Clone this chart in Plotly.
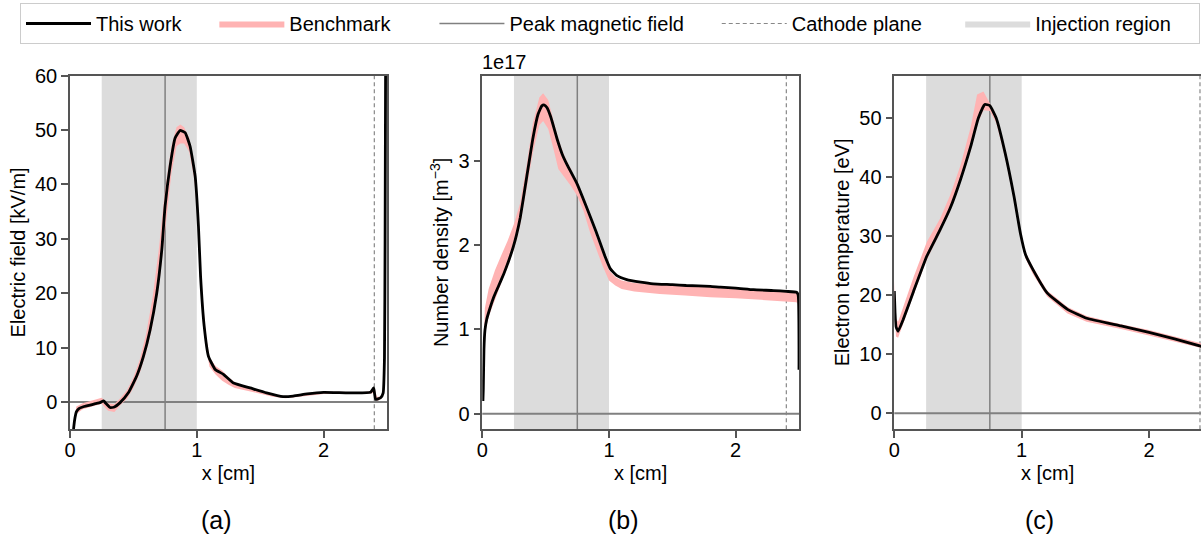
import plotly.graph_objects as go

W, H = 1201, 538

# ---------------- data ----------------
# (a) electric field [kV/m]
x_efield = [0.025, 0.03, 0.04, 0.05, 0.07, 0.1, 0.15, 0.2, 0.237, 0.265, 0.29, 0.316, 0.35, 0.395,
            0.46, 0.526, 0.579, 0.632, 0.684, 0.724, 0.75, 0.789, 0.829, 0.868, 0.908, 0.947,
            0.987, 1.013, 1.03, 1.058, 1.092, 1.145, 1.21, 1.29, 1.42, 1.55, 1.68, 1.76, 1.87,
            2.0, 2.2, 2.37, 2.395, 2.41, 2.45, 2.47, 2.48, 2.485, 2.49]
efield = [-6.0, -4.5, -2.8, -1.8, -1.2, -0.9, -0.6, -0.3, -0.1, 0.2, -0.4, -1.0, -0.9, -0.1,
          1.7, 4.8, 8.4, 13.3, 20.0, 28.0, 36.0, 43.3, 48.5, 49.9, 49.5, 47.0,
          41.5, 32.3, 23.0, 14.0, 8.4, 6.0, 5.1, 3.5, 2.6, 1.7, 1.0, 1.1, 1.5,
          1.8, 1.7, 1.8, 2.6, 0.5, 0.8, 1.7, 8.0, 30.0, 70.0]
x_efield_bench = [0.03, 0.05, 0.1, 0.15, 0.2, 0.25, 0.3, 0.35, 0.4, 0.45, 0.5, 0.55, 0.6, 0.65, 0.7,
                  0.75, 0.8, 0.84, 0.87, 0.9, 0.94, 0.98, 1.01, 1.04, 1.07, 1.1, 1.15, 1.2, 1.25,
                  1.3, 1.4, 1.5, 1.6, 1.7, 1.8, 1.9, 2.0, 2.1, 2.2, 2.3, 2.38, 2.4, 2.42, 2.45,
                  2.47, 2.48, 2.49]
efield_bench_hi = [-3.5, -0.8, -0.2, 0.1, 0.4, 0.8, -0.2, -0.4, 0.8, 2.2, 4.5, 7.8, 12.5, 19.0, 28.0,
                   39.0, 47.0, 50.5, 51.0, 50.5, 48.5, 43.5, 35.0, 21.0, 12.5, 8.2, 6.6, 5.8, 4.6,
                   3.6, 2.8, 2.1, 1.4, 1.0, 1.3, 1.6, 1.9, 1.9, 1.8, 1.8, 2.0, 2.6, 1.0, 1.0,
                   2.0, 10.0, 70.0]
efield_bench_lo = [-5.5, -2.2, -1.3, -0.9, -0.6, -0.3, -1.6, -1.8, -0.5, 0.6, 2.6, 5.3, 9.0, 14.0, 21.0,
                   32.0, 42.0, 47.0, 47.5, 47.5, 46.0, 41.0, 33.0, 19.0, 10.5, 6.5, 5.0, 3.9, 3.2,
                   2.6, 2.0, 1.5, 1.0, 0.7, 0.9, 1.2, 1.5, 1.5, 1.5, 1.5, 1.6, 1.9, 0.2, 0.5,
                   1.3, 6.0, 60.0]

# (b) number density [1e17 m^-3]
x_density = [0.005, 0.008, 0.013, 0.021, 0.035, 0.05, 0.087, 0.13, 0.17, 0.21, 0.245, 0.27, 0.3,
             0.35, 0.4, 0.44, 0.47, 0.49, 0.51, 0.54, 0.59, 0.63, 0.67, 0.75, 0.82, 0.9, 0.97,
             1.01, 1.06, 1.14, 1.25, 1.35, 1.5, 1.61, 1.8, 1.88, 2.0, 2.14, 2.3, 2.4, 2.48, 2.493, 2.5]
density = [0.15, 0.3, 0.76, 0.99, 1.12, 1.2, 1.37, 1.52, 1.66, 1.82, 1.98, 2.12, 2.33,
           2.8, 3.27, 3.55, 3.65, 3.66, 3.63, 3.52, 3.26, 3.08, 2.95, 2.72, 2.46, 2.15, 1.86,
           1.72, 1.64, 1.59, 1.56, 1.54, 1.53, 1.52, 1.51, 1.50, 1.49, 1.47, 1.46, 1.45, 1.44, 1.41, 0.52]
x_density_bench = [0.005, 0.02, 0.05, 0.1, 0.15, 0.2, 0.25, 0.3, 0.35, 0.4, 0.45, 0.48, 0.52, 0.56,
                   0.6, 0.65, 0.7, 0.75, 0.8, 0.85, 0.9, 0.95, 1.0, 1.05, 1.1, 1.2, 1.4, 1.6, 1.8,
                   2.0, 2.2, 2.4, 2.48, 2.49]
density_bench_hi = [0.5, 1.25, 1.48, 1.7, 1.88, 2.05, 2.25, 2.5, 2.95, 3.45, 3.75, 3.8, 3.72, 3.5,
                    3.25, 3.05, 2.9, 2.72, 2.5, 2.3, 2.1, 1.9, 1.7, 1.62, 1.58, 1.55, 1.53, 1.52,
                    1.51, 1.49, 1.47, 1.45, 1.44, 1.42]
density_bench_lo = [0.3, 0.95, 1.15, 1.35, 1.55, 1.75, 1.95, 2.25, 2.65, 3.1, 3.42, 3.47, 3.38, 3.15,
                    2.9, 2.8, 2.7, 2.58, 2.4, 2.15, 1.95, 1.75, 1.58, 1.52, 1.48, 1.45, 1.42, 1.40,
                    1.38, 1.37, 1.35, 1.33, 1.32, 1.30]

# (c) electron temperature [eV]
x_temp = [0.0, 0.006, 0.013, 0.03, 0.07, 0.15, 0.255, 0.36, 0.44, 0.52, 0.6, 0.66, 0.71, 0.75,
          0.8, 0.87, 0.94, 0.99, 1.03, 1.09, 1.2, 1.36, 1.51, 1.78, 2.0, 2.2, 2.42]
temp = [20.7, 17.0, 14.7, 13.9, 15.9, 20.6, 26.6, 31.1, 34.8, 39.6, 45.2, 50.0, 52.3, 52.1,
        50.0, 44.1, 36.7, 30.5, 26.9, 24.3, 20.4, 17.6, 16.1, 14.8, 13.7, 12.6, 11.3]
x_temp_bench = [0.0, 0.013, 0.03, 0.07, 0.15, 0.255, 0.36, 0.44, 0.52, 0.6, 0.65, 0.7, 0.75, 0.8,
                0.87, 0.94, 0.99, 1.03, 1.09, 1.2, 1.36, 1.51, 1.78, 2.0, 2.2, 2.42]
temp_bench_hi = [22.5, 16.0, 15.5, 18.0, 23.0, 29.0, 33.0, 37.0, 42.0, 48.5, 54.0, 54.5, 52.5, 50.5,
                 44.5, 37.0, 30.8, 27.3, 24.7, 20.8, 18.0, 16.5, 15.1, 14.1, 13.0, 11.8]
temp_bench_lo = [19.0, 13.0, 12.8, 15.2, 20.0, 26.0, 30.6, 34.5, 39.2, 44.5, 48.8, 51.3, 51.2, 49.2,
                 43.3, 35.9, 29.8, 26.2, 23.5, 19.8, 16.9, 15.5, 14.3, 13.2, 12.2, 11.0]

# markers in x [cm]
injection_region = [0.25, 1.0]
peak_magnetic_field = 0.75
cathode_plane = 2.4

panel_labels = ["(a)", "(b)", "(c)"]
y_titles = ["Electric field [kV/m]", "Number density [m<sup>\u22123</sup>]", "Electron temperature [eV]"]
x_title = "x [cm]"
y_ticks = [[0, 10, 20, 30, 40, 50, 60], [0, 1, 2, 3], [0, 10, 20, 30, 40, 50]]
y_ranges = [[-5, 60], [-0.185, 4.01], [-2.7, 57.2]]
x_ranges = [[0, 2.5], [0, 2.5], [0, 2.408]]
legend_names = ["This work", "Benchmark", "Peak magnetic field", "Cathode plane", "Injection region"]
legend_pad = [5, 7, 5, 6, 4]   # trailing non-breaking spaces used to space legend entries

# ---------------- styling ----------------
FONT = "Liberation Sans, Arial, Helvetica, sans-serif"
BLACK = "#000000"
PINK = "#ffb3b3"
GRAY_REGION = "#dcdcdc"
GRAY_LINE = "#808080"
SPINE = "#555555"

def px_x(p):
    return p / W

def px_y(p):
    return 1 - p / H

def lname(i):
    return legend_names[i] + "\u00a0" * legend_pad[i]

x_domains = [[px_x(70), px_x(387)], [px_x(482.3), px_x(799)], [px_x(894.3), 1.0]]
y_domain = [px_y(429.3), px_y(75.5)]

fig = go.Figure()

panels = [
    (x_efield, efield, x_efield_bench, efield_bench_lo, efield_bench_hi),
    (x_density, density, x_density_bench, density_bench_lo, density_bench_hi),
    (x_temp, temp, x_temp_bench, temp_bench_lo, temp_bench_hi),
]

for i, (xs, ys, xb, lo, hi) in enumerate(panels):
    xa = "x" if i == 0 else f"x{i+1}"
    ya = "y" if i == 0 else f"y{i+1}"
    fig.add_trace(go.Scatter(
        x=list(xb) + list(xb)[::-1], y=list(hi) + list(lo)[::-1],
        fill="toself", fillcolor=PINK, line=dict(width=0, color=PINK),
        mode="lines", name=lname(1), legendgroup="bench", legendrank=2,
        showlegend=(i == 0), xaxis=xa, yaxis=ya, hoverinfo="skip"))
    fig.add_trace(go.Scatter(
        x=xs, y=ys, mode="lines", line=dict(color=BLACK, width=2.8, shape="spline", smoothing=0.4),
        name=lname(0), legendgroup="this", legendrank=1,
        showlegend=(i == 0), xaxis=xa, yaxis=ya))

    # shapes
    fig.add_shape(type="rect", xref=xa, yref=f"{ya} domain", x0=injection_region[0],
                  x1=injection_region[1], y0=0, y1=1, fillcolor=GRAY_REGION,
                  line=dict(width=0), layer="below")
    fig.add_shape(type="line", xref=f"{xa} domain", yref=ya, x0=0, x1=1, y0=0, y1=0,
                  line=dict(color=GRAY_LINE, width=2), layer="below")
    fig.add_shape(type="line", xref=xa, yref=f"{ya} domain", x0=peak_magnetic_field,
                  x1=peak_magnetic_field, y0=0, y1=1,
                  line=dict(color=GRAY_LINE, width=1.5), layer="below")
    fig.add_shape(type="line", xref=xa, yref=f"{ya} domain", x0=cathode_plane,
                  x1=cathode_plane, y0=0, y1=1,
                  line=dict(color="#888888", width=1.2, dash="4px,3px"), layer="below")

# legend-only entries
fig.add_trace(go.Scatter(x=[None], y=[None], mode="lines",
                         line=dict(color=GRAY_LINE, width=1.5),
                         name=lname(2), legendrank=3))
fig.add_trace(go.Scatter(x=[None], y=[None], mode="lines",
                         line=dict(color="#888888", width=1.2, dash="4px,3px"),
                         name=lname(3), legendrank=4))
fig.add_trace(go.Scatter(x=[None, None], y=[None, None], fill="toself", mode="lines",
                         fillcolor=GRAY_REGION, line=dict(width=0, color=GRAY_REGION),
                         name=lname(4), legendrank=5))

axis_common = dict(showline=True, linecolor=SPINE, linewidth=1.5, mirror=True,
                   ticks="outside", ticklen=7, tickwidth=1.5, tickcolor=SPINE,
                   showgrid=False, zeroline=False, automargin=False,
                   tickfont=dict(family=FONT, size=20, color=BLACK))

layout = dict(
    width=W, height=H,
    margin=dict(l=0, r=0, t=0, b=0, autoexpand=False),
    paper_bgcolor="white", plot_bgcolor="white",
    font=dict(family=FONT, size=20, color=BLACK),
    showlegend=True,
    legend=dict(orientation="h", x=px_x(20), y=px_y(3), xanchor="left", yanchor="top",
                bordercolor="#cccccc", borderwidth=1, bgcolor="white",
                font=dict(family=FONT, size=20, color=BLACK), itemwidth=65,
                traceorder="normal"),
)

for i in range(3):
    xk = "xaxis" if i == 0 else f"xaxis{i+1}"
    yk = "yaxis" if i == 0 else f"yaxis{i+1}"
    ya = "y" if i == 0 else f"y{i+1}"
    xa = "x" if i == 0 else f"x{i+1}"
    layout[xk] = dict(axis_common, domain=x_domains[i], range=x_ranges[i], anchor=ya,
                      tickvals=[0, 1, 2], ticklabelstandoff=-5,
                      title=dict(text=x_title, standoff=6,
                                 font=dict(family=FONT, size=20, color=BLACK)))
    ymirror = True if i < 2 else False
    layout[yk] = dict(axis_common, domain=y_domain, range=y_ranges[i], anchor=xa,
                      tickvals=y_ticks[i], mirror=ymirror,
                      title=dict(text=y_titles[i], standoff=4,
                                 font=dict(family=FONT, size=20, color=BLACK)))

fig.update_layout(**layout)

# panel labels
label_x = [216, 623, 1039]
for lab, lx in zip(panel_labels, label_x):
    fig.add_annotation(text=lab, x=px_x(lx), y=px_y(520), xref="paper", yref="paper",
                       xanchor="center", yanchor="middle", showarrow=False,
                       font=dict(family=FONT, size=25, color=BLACK))

# offset text for panel (b)
fig.add_annotation(text="1e17", x=px_x(480), y=px_y(75), xref="paper", yref="paper",
                   xanchor="left", yanchor="bottom", showarrow=False,
                   font=dict(family=FONT, size=20, color=BLACK))

fig.write_html("out.html", config={"displayModeBar": False},
               post_script="document.body.style.margin='0';")
